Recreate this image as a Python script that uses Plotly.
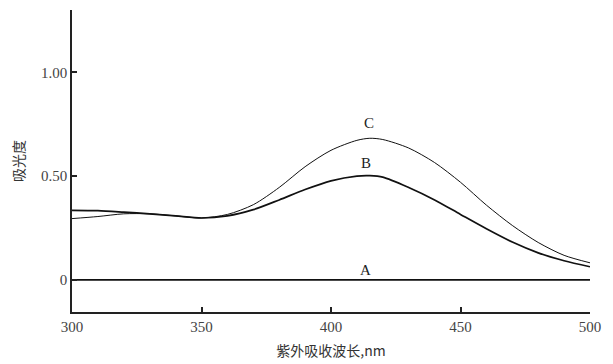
import plotly.graph_objects as go

wavelength = [300, 310, 320, 330, 340, 350, 360, 370, 380, 390, 400, 410, 415, 420, 430, 440, 450, 460, 470, 480, 490, 500]
curve_A = [0.0] * len(wavelength)
curve_B = [0.335, 0.333, 0.326, 0.318, 0.308, 0.298, 0.308, 0.338, 0.385, 0.435, 0.477, 0.500, 0.502, 0.495, 0.445, 0.385, 0.315, 0.246, 0.182, 0.130, 0.092, 0.063]
curve_C = [0.295, 0.305, 0.318, 0.318, 0.308, 0.298, 0.315, 0.362, 0.445, 0.545, 0.624, 0.672, 0.682, 0.676, 0.635, 0.565, 0.470, 0.360, 0.262, 0.180, 0.118, 0.082]
labels = ["A", "B", "C"]
label_x = [413.5, 413.5, 414.7]
label_y = [0.048, 0.565, 0.758]

x_ticks = [300, 350, 400, 450, 500]
y_ticks = [0, 0.5, 1.0]
y_tick_text = ["0", "0.50", "1.00"]

serif = "Liberation Serif, serif"
cjk = "Noto Sans CJK SC"

fig = go.Figure()
for ys, w in [(curve_A, 1.6), (curve_B, 1.7), (curve_C, 1.0)]:
    fig.add_trace(go.Scatter(x=wavelength, y=ys, mode="lines",
                             line=dict(color="#111111", width=w, shape="spline", smoothing=0.8),
                             showlegend=False))

for t, lx, ly in zip(labels, label_x, label_y):
    fig.add_annotation(x=lx, y=ly, text=t, showarrow=False,
                       font=dict(family=serif, size=15, color="#222222"))

# page body has an 8px default margin, so the figure is sized to the visible area
fig.update_layout(
    width=605, height=356,
    margin=dict(l=64, r=23, t=2, b=52),
    paper_bgcolor="white", plot_bgcolor="white",
    font=dict(family=serif, size=15, color="#333333"),
)
fig.update_xaxes(range=[300, 500], tickvals=x_ticks, ticks="inside", ticklen=5,
                 tickcolor="#222222", tickwidth=1.5, automargin=False,
                 tickfont=dict(family=serif, size=15, color="#444444"),
                 showline=True, linecolor="#222222", linewidth=1.5,
                 showgrid=False, zeroline=False,
                 title=dict(text="紫外吸收波长,nm", standoff=12,
                            font=dict(family=cjk, size=14, color="#333333")))
fig.update_yaxes(range=[-0.155, 1.30], tickvals=y_ticks, ticktext=y_tick_text,
                 ticks="inside", ticklen=5, tickcolor="#222222", tickwidth=1.5,
                 automargin=False,
                 tickfont=dict(family=serif, size=15, color="#444444"),
                 showline=True, linecolor="#222222", linewidth=1.5,
                 showgrid=False, zeroline=False,
                 title=dict(text="吸光度", standoff=14,
                            font=dict(family=cjk, size=14, color="#333333")))

fig.write_html("out.html")
